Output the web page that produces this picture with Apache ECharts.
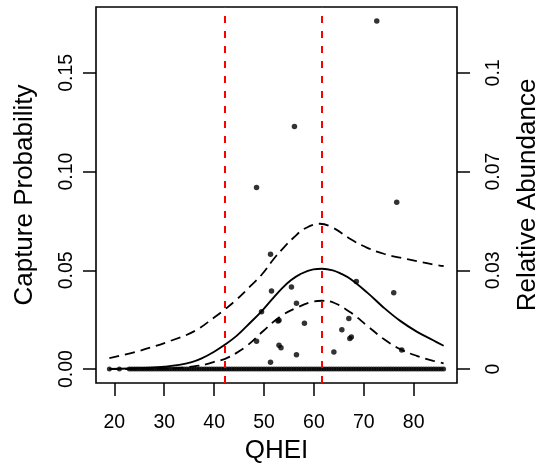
<!DOCTYPE html>
<html>
<head>
<meta charset="utf-8">
<script src="https://cdn.jsdelivr.net/npm/echarts@6/dist/echarts.min.js"></script>
<style>html,body{margin:0;padding:0;background:#fff}#c{width:549px;height:469px}</style>
</head>
<body>
<div id="c"></div>
<script>
// ---- data ----
var xTicks = [20, 30, 40, 50, 60, 70, 80];
var xTickLabels = ['20', '30', '40', '50', '60', '70', '80'];
var leftTicks = [0, 0.05, 0.10, 0.15];
var leftTickLabels = ['0.00', '0.05', '0.10', '0.15'];
var rightTickLabels = ['0', '0.03', '0.07', '0.1'];

// observations with zero capture probability (dense row along the x axis)
var zeroX = [19, 21, 23, 23.5, 24, 24.5, 25, 25.5, 26, 26.5, 27, 27.5, 28, 28.5, 29, 29.5,
  30, 30.5, 31, 31.5, 32, 32.5, 33, 33.5, 34, 34.5, 35, 35.5, 36, 36.5, 37, 37.5,
  38, 38.5, 39, 39.5, 40, 40.5, 41, 41.5, 42, 42.5, 43, 43.5, 44, 44.5, 45, 45.5,
  46, 46.5, 47, 47.5, 48, 48.5, 49, 49.5, 50, 50.5, 51, 51.5, 52, 52.5, 53, 53.5,
  54, 54.5, 55, 55.5, 56, 56.5, 57, 57.5, 58, 58.5, 59, 59.5, 60, 60.5, 61, 61.5,
  62, 62.5, 63, 63.5, 64, 64.5, 65, 65.5, 66, 66.5, 67, 67.5, 68, 68.5, 69, 69.5,
  70, 70.5, 71, 71.5, 72, 72.5, 73, 73.5, 74, 74.5, 75, 75.5, 76, 76.5, 77, 77.5,
  78, 78.5, 79, 79.5, 80, 80.5, 81, 81.5, 82, 82.5, 83, 83.5, 84, 84.5, 85, 85.5, 86];

// observations with non-zero capture probability
var ptX = [72.6, 56.1, 48.5, 76.6, 51.3, 51.5, 55.5, 68.5, 76.0, 49.5, 56.5, 52.8, 53.0,
  58.1, 67.0, 65.6, 67.2, 67.5, 48.5, 53.0, 53.4, 56.5, 64.0, 77.6, 51.3];
var ptY = [0.1763, 0.1229, 0.0919, 0.0845, 0.0581, 0.0396, 0.0416, 0.0444, 0.0387, 0.0290,
  0.0333, 0.0244, 0.0247, 0.0232, 0.0256, 0.0199, 0.0155, 0.0163, 0.0141, 0.0121,
  0.0108, 0.0072, 0.0087, 0.0096, 0.0034];

// fitted curve
var fitX = [19, 23, 27, 30, 33, 35.5, 37.5, 40, 42.2, 44.5, 46.6, 49.6, 51.5, 53.6, 55.5,
  57.2, 59.9, 61.6, 63.8, 65.5, 67.4, 70.7, 74, 77.3, 80.6, 83.9, 86];
var fitY = [0.0001, 0.0003, 0.0007, 0.0012, 0.0021, 0.0035, 0.0054, 0.0088, 0.0124, 0.0168,
  0.0219, 0.0295, 0.0350, 0.0409, 0.0452, 0.0480, 0.0505, 0.0508, 0.0500, 0.0482,
  0.0455, 0.0387, 0.0311, 0.0244, 0.0190, 0.0146, 0.0118];

// upper confidence band
var upX = [19, 25, 31.6, 36.2, 40, 42.2, 44.5, 47.3, 49.6, 51.9, 53.9, 55.9, 58.2, 61.2,
  63.8, 67.4, 70.7, 74, 77.3, 80.6, 83.9, 86];
var upY = [0.0056, 0.0092, 0.0146, 0.0194, 0.0261, 0.0303, 0.0352, 0.0421, 0.0480, 0.0556,
  0.0614, 0.0665, 0.0712, 0.0736, 0.0716, 0.0657, 0.0614, 0.0584, 0.0564, 0.0547,
  0.0530, 0.0522];

// lower confidence band
var loX = [19, 30, 34, 36.5, 38.5, 40, 42.2, 44.5, 46.6, 49.9, 53.2, 56.5, 59.9, 61.6, 64,
  67.4, 70.7, 74, 77.3, 80.6, 83.9, 86];
var loY = [0.0000, 0.0002, 0.0008, 0.0016, 0.0025, 0.0037, 0.0052, 0.0082, 0.0118, 0.0194,
  0.0265, 0.0310, 0.0342, 0.0346, 0.0336, 0.0286, 0.0219, 0.0152, 0.0101, 0.0067,
  0.0042, 0.0029];

// red reference lines
var refX = [42.2, 61.65];

// ---- chart ----
function pairs(xs, ys) { return xs.map(function (x, i) { return [x, ys[i]]; }); }
var FONT = 'Liberation Sans, Arial, sans-serif';
var chart = echarts.init(document.getElementById('c'), null, { renderer: 'canvas' });
var yMin = -0.00705, yMax = 0.18335;
function yAxisBase(pos) {
  return {
    type: 'value', position: pos, min: yMin, max: yMax,
    splitLine: { show: false },
    axisLine: { show: false, onZero: false },
    axisTick: { show: true, length: 13, customValues: leftTicks, lineStyle: { color: '#000', width: 1.5 } },
    nameLocation: 'middle',
    nameTextStyle: { fontFamily: FONT, fontSize: 26, color: '#000' }
  };
}
var yl = yAxisBase('left');
yl.name = 'Capture Probability';
yl.nameGap = 58;
yl.axisLabel = {
  customValues: leftTicks, rotate: 90, margin: 19, fontFamily: FONT, fontSize: 19.5, color: '#000',
  formatter: function (v) { var i = leftTicks.findIndex(function (t) { return Math.abs(t - v) < 1e-9; }); return i >= 0 ? leftTickLabels[i] : ''; }
};
var yr = yAxisBase('right');
yr.name = 'Relative Abundance';
yr.nameGap = 58;
yr.axisLabel = {
  customValues: leftTicks, rotate: 90, margin: 27, fontFamily: FONT, fontSize: 19.5, color: '#000',
  formatter: function (v) { var i = leftTicks.findIndex(function (t) { return Math.abs(t - v) < 1e-9; }); return i >= 0 ? rightTickLabels[i] : ''; }
};

var dashBlack = { color: '#000', width: 1.8, type: [10, 6] };
chart.setOption({
  animation: false,
  backgroundColor: '#fff',
  grid: { left: 96, right: 88, top: 7, bottom: 85, show: true, borderColor: '#000', borderWidth: 1.6, backgroundColor: 'transparent' },
  xAxis: {
    type: 'value', min: 16.32, max: 88.68,
    splitLine: { show: false },
    axisLine: { show: false, onZero: false },
    axisTick: { show: true, length: 13, customValues: xTicks, lineStyle: { color: '#000', width: 1.5 } },
    axisLabel: {
      customValues: xTicks, margin: 30, fontFamily: FONT, fontSize: 19.5, color: '#000',
      formatter: function (v) { var i = xTicks.indexOf(v); return i >= 0 ? xTickLabels[i] : ''; }
    },
    name: 'QHEI', nameLocation: 'middle', nameGap: 55,
    nameTextStyle: { fontFamily: FONT, fontSize: 26, color: '#000' }
  },
  yAxis: [yl, yr],
  series: [
    {
      type: 'scatter', yAxisIndex: 0, symbol: 'circle', symbolSize: 5,
      itemStyle: { color: '#000' }, silent: true, z: 2,
      data: zeroX.map(function (x) { return [x, 0]; })
    },
    {
      type: 'scatter', yAxisIndex: 0, symbol: 'circle', symbolSize: 5.5,
      itemStyle: { color: '#000' }, silent: true, z: 2,
      data: pairs(ptX, ptY)
    },
    {
      type: 'line', yAxisIndex: 0, smooth: 0.4, showSymbol: false, symbol: 'none', z: 3,
      lineStyle: { color: '#000', width: 1.9 },
      data: pairs(fitX, fitY)
    },
    {
      type: 'line', yAxisIndex: 0, smooth: 0.4, showSymbol: false, symbol: 'none', z: 3,
      lineStyle: dashBlack,
      data: pairs(upX, upY)
    },
    {
      type: 'line', yAxisIndex: 0, smooth: 0.4, showSymbol: false, symbol: 'none', z: 3,
      lineStyle: dashBlack,
      data: pairs(loX, loY),
      markLine: {
        silent: true, symbol: ['none', 'none'], label: { show: false },
        lineStyle: { color: '#ff0000', width: 2, type: [7, 8] },
        data: refX.map(function (x) { return { xAxis: x }; }),
        z: 4
      }
    }
  ]
});
</script>
</body>
</html>
